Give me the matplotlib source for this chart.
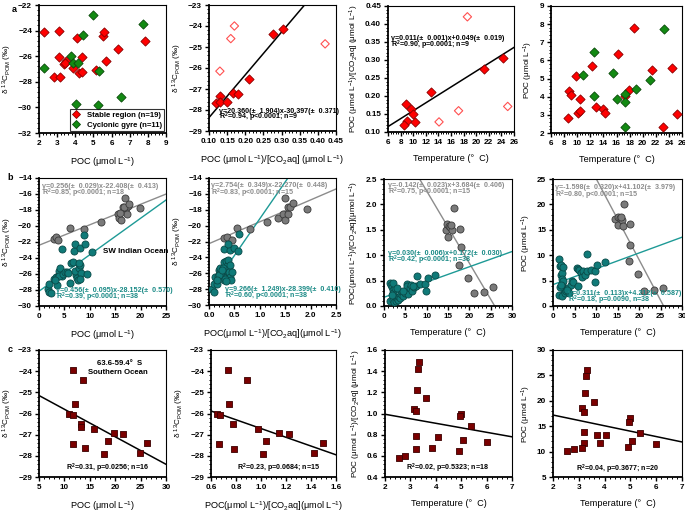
import numpy as np
import matplotlib
matplotlib.use("Agg")
import matplotlib.pyplot as plt
from matplotlib.ticker import MultipleLocator, AutoMinorLocator
from matplotlib.lines import Line2D

plt.rcParams['font.family'] = ['Liberation Sans', 'DejaVu Sans']
plt.rcParams['font.weight'] = 'bold'
plt.rcParams['mathtext.fontset'] = 'custom'
plt.rcParams['mathtext.rm'] = 'Liberation Sans:bold'
plt.rcParams['mathtext.it'] = 'Liberation Sans:bold:italic'
plt.rcParams['mathtext.bf'] = 'Liberation Sans:bold'
plt.rcParams['mathtext.default'] = 'regular'

# ---- row a : stable region (red) / cyclonic gyre (green) ----
a1_red_x = [2.3, 3.1, 4.1, 5.55, 5.6, 6.35, 7.85, 3.1, 4.35, 5.7, 3.5, 3.4, 3.45,
            3.9, 4.2, 4.35, 5.15, 2.85, 3.15]
a1_red_y = [-24.1, -24.0, -24.6, -24.4, -24.1, -25.4, -24.85, -26.1, -26.05, -26.4,
            -26.4, -26.6, -26.5, -26.9, -27.3, -27.2, -27.1, -27.6, -27.6]
a1_green_x = [4.95, 7.75, 4.45, 3.75, 3.9, 4.15, 5.3, 2.3, 4.05, 5.25, 6.5]
a1_green_y = [-22.8, -23.5, -24.35, -26.0, -26.55, -26.5, -27.15, -26.9, -29.75, -29.85, -29.2]

a2_fill_x = [0.305, 0.275, 0.21, 0.165, 0.18, 0.13, 0.12, 0.13, 0.15]
a2_fill_y = [-24.15, -24.4, -26.5, -27.2, -27.25, -27.35, -27.65, -27.6, -27.6]
a2_open_x = [0.17, 0.16, 0.13, 0.42]
a2_open_y = [-24.0, -24.6, -26.15, -24.85]
a2_fit = (20.360, -30.397)

a3_fill_x = [24.3, 21.3, 12.8, 8.8, 9.7, 10.0, 9.0, 8.6, 10.3]
a3_fill_y = [0.305, 0.275, 0.21, 0.178, 0.165, 0.15, 0.13, 0.12, 0.128]
a3_open_x = [18.6, 14.1, 17.2, 25.0]
a3_open_y = [0.42, 0.128, 0.159, 0.171]
a3_fit = (0.011, 0.049)

a4_red_x = [18.6, 16.3, 12.2, 9.8, 21.4, 24.4, 8.8, 9.05, 17.9, 10.5, 17.3, 12.9,
            13.9, 14.2, 10.1, 10.4, 8.6, 23.1, 25.2]
a4_red_y = [7.8, 6.33, 5.69, 5.12, 5.5, 5.56, 4.31, 4.12, 4.35, 3.87, 4.05, 3.45,
            3.35, 3.1, 3.1, 3.2, 2.84, 2.31, 3.05]
a4_green_x = [23.3, 12.6, 10.9, 15.4, 21.05, 19.05, 12.5, 16.0, 17.35, 17.35, 17.25]
a4_green_y = [7.73, 6.46, 5.21, 5.29, 4.94, 4.43, 4.04, 3.87, 4.17, 3.72, 2.31]

# ---- row b : SW Indian Ocean, gray / teal groups ----
b1_gray_x = [3.0, 3.3, 3.8, 6.2, 8.8, 12.2, 15.5, 15.8, 16.1, 16.5, 17.0, 17.2,
             17.4, 17.6, 16.8, 19.9, 15.9, 17.8]
b1_gray_y = [-21.6, -21.4, -21.8, -20.3, -20.4, -19.5, -18.5, -19.0, -19.2, -17.6,
             -16.5, -17.8, -18.5, -17.5, -17.6, -17.8, -18.4, -17.2]
b1_teal_x = [1.7, 2.0, 2.3, 2.0, 3.5, 3.0, 3.3, 3.8, 4.0, 4.2, 4.5, 4.0, 4.8, 5.2,
             5.5, 5.7, 4.6, 6.2, 6.3, 6.6, 6.8, 7.0, 7.2, 7.3, 7.0, 7.4, 7.6, 7.8,
             8.0, 8.2, 8.0, 8.1, 8.8, 9.0, 9.5, 10.4, 7.8, 3.1]
b1_teal_y = [-27.9, -28.3, -28.4, -27.3, -27.4, -26.6, -26.4, -26.2, -25.6, -25.3,
             -26.2, -26.3, -26.0, -25.8, -25.8, -25.9, -22.9, -27.1, -24.6, -24.5,
             -23.1, -22.3, -25.9, -26.1, -25.6, -26.5, -26.7, -25.2, -24.9, -25.9,
             -26.6, -22.8, -21.1, -22.3, -26.0, -23.2, -24.6, -26.8]
b1_gray_fit = (0.256, -22.408)
b1_teal_fit = (0.456, -28.152)

b2_gray_x = [0.3, 0.35, 0.45, 0.55, 0.8, 1.15, 1.35, 1.45, 1.5, 1.55, 1.5, 1.55,
             1.6, 1.65, 1.92]
b2_gray_y = [-21.6, -21.4, -21.8, -20.3, -20.4, -19.5, -19.1, -18.5, -19.3, -18.5,
             -16.5, -17.6, -17.6, -17.2, -17.9]
b2_teal_x = [0.05, 0.1, 0.1, 0.15, 0.12, 0.18, 0.2, 0.22, 0.25, 0.22, 0.25, 0.28,
             0.3, 0.3, 0.3, 0.33, 0.35, 0.35, 0.36, 0.38, 0.38, 0.4, 0.4, 0.42,
             0.42, 0.42, 0.38, 0.45, 0.5, 0.57, 0.6, 0.28, 0.32, 0.2, 0.15, 0.43,
             0.26, 0.34]
b2_teal_y = [-28.0, -28.3, -27.3, -27.4, -26.5, -26.4, -25.6, -25.8, -26.1, -25.4,
             -26.0, -25.8, -26.9, -22.9, -24.6, -24.5, -26.0, -25.1, -26.4, -25.8,
             -24.3, -25.5, -25.9, -26.5, -24.9, -23.1, -22.3, -25.8, -22.8, -23.2,
             -21.1, -25.3, -26.7, -26.2, -26.8, -26.9, -25.6, -27.0]
b2_gray_fit = (2.754, -22.270)
b2_teal_fit = (9.266, -28.399)

b3_gray_x = [14.5, 14.8, 15.0, 15.3, 15.5, 16.0, 16.3, 15.6, 17.8, 18.0, 17.6,
             19.7, 21.1, 23.4, 25.6]
b3_gray_y = [1.5, 1.62, 1.36, 1.58, 1.55, 1.5, 1.93, 1.6, 1.51, 1.17, 0.81,
             0.56, 0.26, 0.28, 0.37]
b3_teal_x = [1.5, 1.5, 1.7, 1.8, 2.0, 2.0, 2.2, 2.3, 2.5, 2.5, 2.7, 3.0, 3.2, 3.5,
             3.8, 4.0, 4.2, 4.5, 5.0, 5.3, 5.5, 5.7, 6.0, 6.3, 6.5, 7.0, 7.5, 7.8,
             8.5, 9.5, 9.8, 10.2, 12.0, 1.8, 2.2, 3.0, 4.5, 6.8]
b3_teal_y = [0.45, 0.1, 0.42, 0.38, 0.32, 0.12, 0.25, 0.08, 0.18, 0.35, 0.10, 0.15,
             0.12, 0.17, 0.15, 0.24, 0.28, 0.20, 0.26, 0.43, 0.40, 0.23, 0.35, 0.42,
             0.30, 0.38, 0.40, 0.60, 0.44, 0.44, 0.30, 0.55, 0.62, 0.22, 0.45, 0.35,
             0.30, 0.40]
b3_gray_fit = (-0.142, 3.684)
b3_teal_fit = (0.030, 0.172)

b4_gray_x = [14.5, 15.0, 15.2, 15.5, 16.0, 16.3, 16.5, 15.8, 17.8, 18.0, 17.7,
             19.7, 21.1, 23.4, 25.6]
b4_gray_y = [17.2, 17.6, 16.0, 17.3, 17.0, 15.8, 20.0, 17.5, 16.1, 12.1, 8.8,
             6.3, 2.9, 3.1, 3.6]
b4_teal_x = [1.5, 1.7, 1.9, 1.5, 1.8, 2.0, 2.0, 2.1, 2.2, 2.2, 2.4, 2.5, 1.6, 1.9,
             2.8, 3.0, 3.5, 3.8, 4.2, 4.5, 4.7, 5.5, 5.7, 5.9, 6.0, 6.5, 6.8, 7.0,
             7.5, 7.8, 8.0, 8.8, 9.8, 9.8, 10.2, 12.0, 2.3, 3.3]
b4_teal_y = [9.3, 7.9, 8.1, 2.2, 6.2, 6.5, 5.3, 4.3, 3.8, 2.0, 4.9, 3.2, 3.8, 4.2,
             2.5, 3.0, 3.5, 2.5, 4.2, 5.0, 4.8, 7.5, 7.2, 4.0, 7.0, 6.5, 5.8, 6.8,
             6.2, 10.3, 6.8, 7.0, 6.8, 4.7, 8.1, 8.6, 7.7, 3.2]
b4_gray_fit = (-1.598, 41.102)
b4_teal_fit = (0.311, 4.212)

# ---- row c : Southern Ocean (63.6-59.4 S) ----
c1_x = [11.6, 13.6, 12.1, 10.9, 11.7, 13.3, 13.3, 15.9, 19.8, 21.6, 18.5, 11.6,
        14.0, 17.7, 24.9, 26.2]
c1_y = [-23.95, -24.42, -25.56, -26.0, -26.05, -26.5, -26.65, -26.75, -26.92, -26.97,
        -27.3, -27.45, -27.65, -27.9, -27.87, -27.4]
c1_fit = (-0.13, -24.5)

c2_x = [0.732, 0.886, 0.74, 0.645, 0.67, 0.775, 0.976, 1.145, 1.22, 1.04, 0.665,
        0.785, 1.018, 1.42, 1.495]
c2_y = [-23.95, -24.42, -25.56, -26.0, -26.06, -26.5, -26.74, -26.9, -26.97, -27.3,
        -27.44, -27.66, -27.91, -27.88, -27.38]
c2_fit = (-2.07, -24.64)

c3_x = [3.33, 3.29, 3.26, 3.6, 3.13, 3.22, 5.0, 4.97, 5.37, 3.21, 4.08, 5.08, 6.0,
        3.24, 3.86, 4.92, 2.54, 2.8]
c3_y = [1.49, 1.42, 1.22, 1.145, 1.045, 1.02, 1.0, 0.975, 0.885, 0.785, 0.78, 0.745,
        0.735, 0.665, 0.67, 0.645, 0.575, 0.6]
c3_fit = (-0.0426, 1.078)

c4_x = [3.32, 3.29, 3.25, 3.58, 3.11, 3.21, 5.0, 4.96, 3.2, 3.7, 4.07, 5.37, 3.22,
        3.83, 5.08, 6.0, 3.12, 4.9, 2.53, 2.8]
c4_y = [26.15, 24.8, 21.6, 19.8, 18.5, 17.7, 16.6, 15.8, 13.9, 13.3, 13.3, 13.6,
        11.6, 11.7, 12.0, 11.5, 10.8, 10.9, 10.2, 10.5]
c4_fit = (-1.06, 19.32)

RED = '#ff0000'
RED_EDGE = '#8a0000'
GREEN = '#128a12'
GREEN_EDGE = '#0a4a0a'
GRAY = '#7a7a7a'
GRAY_EDGE = '#3a3a3a'
GRAY_LINE = '#8c8c8c'
TEAL = '#107a78'
TEAL_EDGE = '#0a4a48'
TEAL_LINE = '#1e9a96'
TEAL_TEXT = '#1a8a86'
DRED = '#7a0000'
DRED_EDGE = '#3a0000'

d13c = r'δ $^{13}$C$_{POM}$ (‰)'
poc = r'POC ($\mu$mol L$^{-1}$)'
ratio = r'POC ($\mu$mol L$^{-1}$)/[CO$_2$aq] ($\mu$mol L$^{-1}$)'
ratio2 = r'POC($\mu$mol L$^{-1}$)/[CO$_2$aq]($\mu$mol L$^{-1}$)'
temp = 'Temperature (°  C)'

ANN = 5.1   # annotation font size
fig = plt.figure(figsize=(6.85, 5.12), dpi=100)
W, H = 685.0, 512.0


def make_ax(x0, x1, y0, y1):
    return fig.add_axes([x0 / W, 1 - y1 / H, (x1 - x0) / W, (y1 - y0) / H])


def style(ax, xlim, ylim, xmaj, ymaj, xlabel, ylabel, xminor=5, yminor=5):
    ax.set_xlim(*xlim)
    ax.set_ylim(*ylim)
    ax.xaxis.set_major_locator(MultipleLocator(xmaj))
    ax.yaxis.set_major_locator(MultipleLocator(ymaj))
    ax.xaxis.set_minor_locator(AutoMinorLocator(xminor))
    ax.yaxis.set_minor_locator(AutoMinorLocator(yminor))
    ax.tick_params(which='major', direction='out', length=3, width=1.0, labelsize=5.9, pad=2)
    ax.tick_params(which='minor', direction='out', length=1.6, width=0.7)
    for s in ['left', 'bottom']:
        ax.spines[s].set_linewidth(1.3)
    for s in ['top', 'right']:
        ax.spines[s].set_linewidth(0.8)
    ax.set_xlabel(xlabel, fontsize=6.6, labelpad=6)
    ax.set_ylabel(ylabel, fontsize=5.9, labelpad=3)


def fit_line(ax, fit, color, lw=1.0):
    xs = np.array(ax.get_xlim())
    ax.plot(xs, fit[0] * xs + fit[1], color=color, lw=lw, zorder=2)


def dots(ax, x, y, marker, fc, ec, s, filled=True):
    if filled:
        ax.scatter(x, y, marker=marker, s=s, facecolor=fc, edgecolor=ec, linewidth=0.6, zorder=3)
    else:
        ax.scatter(x, y, marker=marker, s=s, facecolor='none', edgecolor=fc, linewidth=0.8, zorder=3)


# ---------------- row a ----------------
ax = make_ax(39, 166, 5, 133)
style(ax, (2, 9), (-32, -22), 1, 2, poc, d13c)
dots(ax, a1_red_x, a1_red_y, 'D', RED, RED_EDGE, 22)
dots(ax, a1_green_x, a1_green_y, 'D', GREEN, GREEN_EDGE, 22)
handles = [Line2D([], [], marker='D', ls='none', ms=4.5, mfc=RED, mec=RED_EDGE, mew=0.6),
           Line2D([], [], marker='D', ls='none', ms=4.5, mfc=GREEN, mec=GREEN_EDGE, mew=0.6)]
leg = ax.legend(handles, ['Stable region (n=19)', 'Cyclonic gyre (n=11)'], loc='lower right',
                fontsize=5.6, frameon=True, fancybox=False, edgecolor='black',
                handlelength=1.0, handletextpad=0.8, borderpad=0.3, labelspacing=0.3,
                borderaxespad=0.25)
leg.get_frame().set_linewidth(0.8)
fig.text(14 / W, 1 - 9 / H, 'a', fontsize=6.5, fontweight='bold', ha='center', va='center')

ax = make_ax(209, 336, 5, 131)
style(ax, (0.10, 0.45), (-29, -23), 0.05, 1, ratio, d13c)
fit_line(ax, a2_fit, 'black', 1.1)
dots(ax, a2_fill_x, a2_fill_y, 'D', RED, RED_EDGE, 22)
dots(ax, a2_open_x, a2_open_y, 'D', '#ff5050', None, 18, filled=False)
ax.text(0.127, -28.05, 'y=20.360(±  1.904)x-30.397(±  0.371)', fontsize=ANN, va='center')
ax.text(0.127, -28.37, r'R$^2$=0.94, p<0.0001; n=9', fontsize=ANN, va='center')

ax = make_ax(388, 514, 6, 132)
style(ax, (6, 26), (0.10, 0.45), 2, 0.05, temp, ratio)
fit_line(ax, a3_fit, 'black', 1.1)
dots(ax, a3_fill_x, a3_fill_y, 'D', RED, RED_EDGE, 22)
dots(ax, a3_open_x, a3_open_y, 'D', '#ff5050', None, 18, filled=False)
ax.text(6.4, 0.36, 'y=0.011(±  0.001)x+0.049(±  0.019)', fontsize=ANN, va='center')
ax.text(6.4, 0.34, r'R$^2$=0.90, p=0.0001; n=9', fontsize=ANN, va='center')

ax = make_ax(551, 682, 6, 133)
style(ax, (6, 26), (2, 9), 2, 1, temp, poc)
dots(ax, a4_red_x, a4_red_y, 'D', RED, RED_EDGE, 22)
dots(ax, a4_green_x, a4_green_y, 'D', GREEN, GREEN_EDGE, 22)

# ---------------- row b ----------------
ax = make_ax(39, 166, 178, 306)
style(ax, (0, 25), (-30, -14), 5, 2, poc, d13c)
fit_line(ax, b1_gray_fit, GRAY_LINE)
fit_line(ax, b1_teal_fit, TEAL_LINE)
dots(ax, b1_gray_x, b1_gray_y, 'o', GRAY, GRAY_EDGE, 26)
dots(ax, b1_teal_x, b1_teal_y, 'o', TEAL, TEAL_EDGE, 26)
ax.text(0.6, -15.0, 'y=0.256(±  0.029)x-22.408(±  0.413)', fontsize=ANN, color=GRAY_LINE, va='center')
ax.text(0.6, -15.9, r'R$^2$=0.85, p<0.0001; n=18', fontsize=ANN, color=GRAY_LINE, va='center')
ax.text(12.6, -23.2, 'SW Indian Ocean', fontsize=5.8, va='center')
ax.text(3.3, -28.0, 'y=0.456(±  0.095)x-28.152(±  0.570)', fontsize=ANN, color=TEAL_TEXT, va='center')
ax.text(3.3, -28.9, r'R$^2$=0.39, p<0.0001; n=38', fontsize=ANN, color=TEAL_TEXT, va='center')
fig.text(10 / W, 1 - 178 / H, 'b', fontsize=6.5, fontweight='bold', ha='center', va='center')

ax = make_ax(209, 336, 178, 305)
style(ax, (0, 2.5), (-30, -14), 0.5, 2, ratio2, d13c)
fit_line(ax, b2_gray_fit, GRAY_LINE)
fit_line(ax, b2_teal_fit, TEAL_LINE)
dots(ax, b2_gray_x, b2_gray_y, 'o', GRAY, GRAY_EDGE, 26)
dots(ax, b2_teal_x, b2_teal_y, 'o', TEAL, TEAL_EDGE, 26)
ax.text(0.04, -15.0, 'y=2.754(±  0.349)x-22.270(±  0.448)', fontsize=ANN, color=GRAY_LINE, va='center')
ax.text(0.04, -15.9, r'R$^2$=0.83, p<0.0001; n=15', fontsize=ANN, color=GRAY_LINE, va='center')
ax.text(0.31, -28.0, 'y=9.266(±  1.249)x-28.399(±  0.410)', fontsize=ANN, color=TEAL_TEXT, va='center')
ax.text(0.31, -28.9, r'R$^2$=0.60, p<0.0001; n=38', fontsize=ANN, color=TEAL_TEXT, va='center')

ax = make_ax(384, 512, 179, 306)
style(ax, (0, 30), (0, 2.5), 5, 0.5, temp, ratio2)
fit_line(ax, b3_gray_fit, GRAY_LINE)
fit_line(ax, b3_teal_fit, TEAL_LINE)
dots(ax, b3_gray_x, b3_gray_y, 'o', GRAY, GRAY_EDGE, 26)
dots(ax, b3_teal_x, b3_teal_y, 'o', TEAL, TEAL_EDGE, 26)
ax.text(0.9, 2.38, 'y=-0.142(±  0.023)x+3.684(±  0.406)', fontsize=ANN, color=GRAY_LINE, va='center')
ax.text(0.9, 2.24, r'R$^2$=0.75, p<0.0001; n=15', fontsize=ANN, color=GRAY_LINE, va='center')
ax.text(0.9, 1.03, 'y=0.030(±  0.006)x+0.172(±  0.030)', fontsize=ANN, color=TEAL_TEXT, va='center')
ax.text(0.9, 0.90, r'R$^2$=0.42, p<0.0001; n=38', fontsize=ANN, color=TEAL_TEXT, va='center')

ax = make_ax(553, 682, 179, 306)
style(ax, (0, 30), (0, 25), 5, 5, temp, poc)
fit_line(ax, b4_gray_fit, GRAY_LINE)
fit_line(ax, b4_teal_fit, TEAL_LINE)
dots(ax, b4_gray_x, b4_gray_y, 'o', GRAY, GRAY_EDGE, 26)
dots(ax, b4_teal_x, b4_teal_y, 'o', TEAL, TEAL_EDGE, 26)
ax.text(0.4, 23.3, 'y=-1.598(±  0.320)x+41.102(±  3.979)', fontsize=ANN, color=GRAY_LINE, va='center')
ax.text(0.4, 21.8, r'R$^2$=0.80, p<0.0001; n=15', fontsize=ANN, color=GRAY_LINE, va='center')
ax.text(3.6, 2.5, 'y=0.311(±  0.113)x+4.212(±  0.587)', fontsize=ANN, color=TEAL_TEXT, va='center')
ax.text(3.6, 1.05, r'R$^2$=0.18, p=0.0090, n=38', fontsize=ANN, color=TEAL_TEXT, va='center')

# ---------------- row c ----------------
ax = make_ax(39, 166, 350, 477)
style(ax, (5, 30), (-29, -23), 5, 1, poc, d13c)
fit_line(ax, c1_fit, 'black', 1.1)
dots(ax, c1_x, c1_y, 's', DRED, DRED_EDGE, 20)
ax.text(16.5, -23.66, '63.6-59.4°  S', fontsize=5.6, ha='left', va='center')
ax.text(14.7, -24.06, 'Southern Ocean', fontsize=5.6, ha='left', va='center')
ax.text(18.5, -28.58, r'R$^2$=0.31, p=0.0256; n=16', fontsize=ANN, ha='center', va='center')
fig.text(10 / W, 1 - 349 / H, 'c', fontsize=6.5, fontweight='bold', ha='center', va='center')

ax = make_ax(211, 336, 350, 477)
style(ax, (0.6, 1.6), (-29, -23), 0.2, 1, ratio2, d13c)
fit_line(ax, c2_fit, 'black', 1.1)
dots(ax, c2_x, c2_y, 's', DRED, DRED_EDGE, 20)
ax.text(1.14, -28.58, r'R$^2$=0.23, p=0.0684; n=15', fontsize=ANN, ha='center', va='center')

ax = make_ax(385, 512, 350, 477)
style(ax, (2, 7), (0.4, 1.6), 1, 0.2, temp, ratio)
fit_line(ax, c3_fit, 'black', 1.1)
dots(ax, c3_x, c3_y, 's', DRED, DRED_EDGE, 20)
ax.text(4.46, 0.484, r'R$^2$=0.02, p=0.5323; n=18', fontsize=ANN, ha='center', va='center')

ax = make_ax(553, 682, 350, 477)
style(ax, (2, 7), (5, 30), 1, 5, temp, poc)
fit_line(ax, c4_fit, 'black', 1.1)
dots(ax, c4_x, c4_y, 's', DRED, DRED_EDGE, 20)
ax.text(4.49, 6.6, r'R$^2$=0.04, p=0.3677; n=20', fontsize=ANN, ha='center', va='center')

fig.savefig('out.png', dpi=100)
